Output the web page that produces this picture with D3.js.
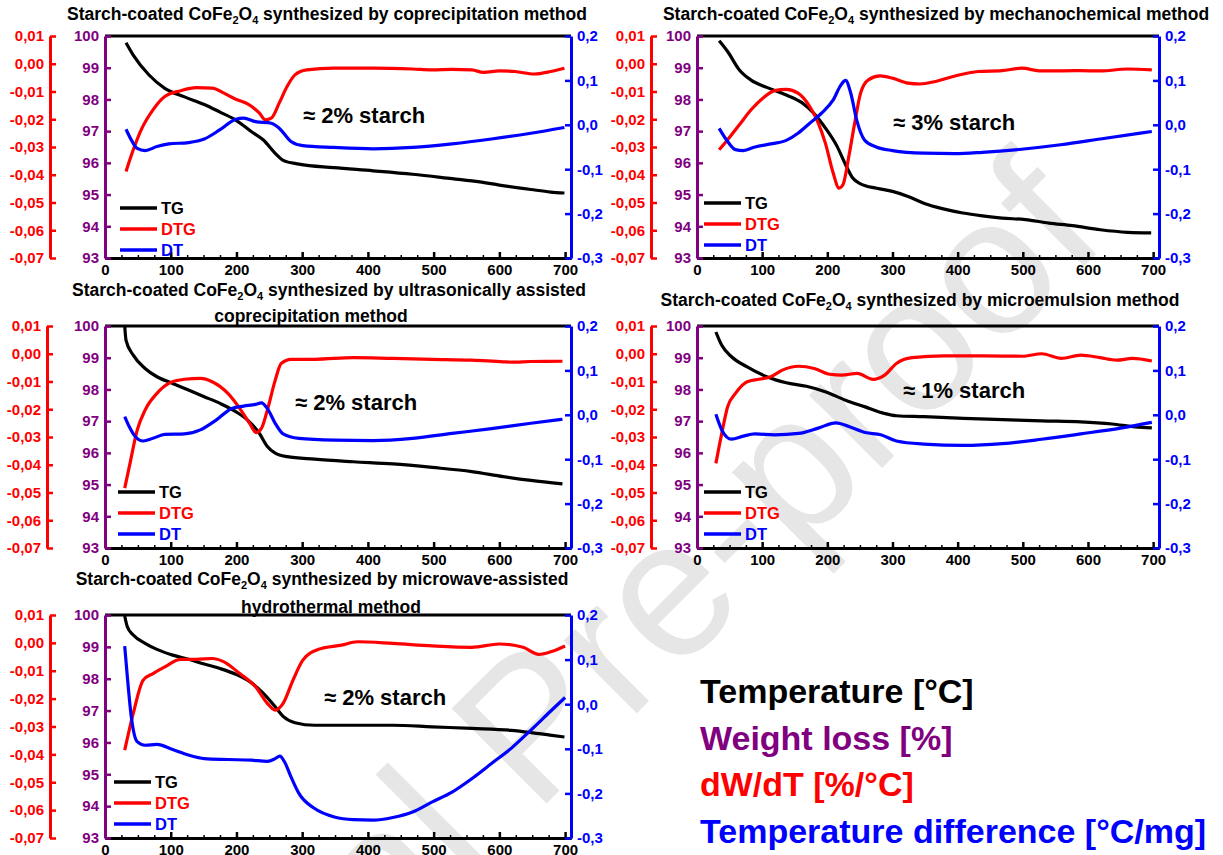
<!DOCTYPE html>
<html>
<head>
<meta charset="utf-8">
<script src="https://cdn.jsdelivr.net/npm/d3@7"></script>
<style>
  body { margin: 0; background: #fff; }
  svg text { font-family: "Liberation Sans", Arial, sans-serif; font-weight: bold; }
</style>
</head>
<body>
<svg id="chart" width="1223" height="855"></svg>
<script>
/* tick values shared by all five panels */
const tempTicks = [0, 100, 200, 300, 400, 500, 600, 700];
const tempMinorTicks = [25, 50, 75, 125, 150, 175, 225, 250, 275, 325, 350, 375, 425, 450, 475, 525, 550, 575, 625, 650, 675];
const weightTicks = [100, 99, 98, 97, 96, 95, 94, 93];
const dtgTicks = [0.01, 0, -0.01, -0.02, -0.03, -0.04, -0.05, -0.06, -0.07];
const dtTicks = [0.2, 0.1, 0, -0.1, -0.2, -0.3];

const seriesNames = ["TG", "DTG", "DT"];

const titles = [
	["Starch-coated CoFe2O4 synthesized by coprecipitation method"],
	["Starch-coated CoFe2O4 synthesized by mechanochemical method"],
	["Starch-coated CoFe2O4 synthesized by ultrasonically assisted", "coprecipitation method"],
	["Starch-coated CoFe2O4 synthesized by microemulsion method"],
	["Starch-coated CoFe2O4 synthesized by microwave-assisted", "hydrothermal method"]
];
const starchLabels = ["≈ 2% starch", "≈ 3% starch", "≈ 2% starch", "≈ 1% starch", "≈ 2% starch"];
const unitLabels = ["Temperature [°C]", "Weight loss [%]", "dW/dT [%/°C]", "Temperature difference [°C/mg]"];

/* [temperature °C, value] */
// coprecipitation
const p1TG = [[32,99.79],[43,99.4],[67,98.77],[91,98.35],[121,98.08],[151,97.84],[175,97.6],[199,97.35],[223,96.98],[241,96.72],[259,96.3],[271,96.08],[295,95.96],[348,95.85],[408,95.75],[468,95.64],[528,95.5],[570,95.4],[600,95.3],[648,95.16],[678,95.08],[699,95.05]];
const p1DTG = [[32,-0.0388],[43,-0.031],[55,-0.0238],[73,-0.0166],[91,-0.0118],[115,-0.0097],[139,-0.0086],[163,-0.0088],[181,-0.0106],[199,-0.0128],[217,-0.0145],[235,-0.0178],[244,-0.0202],[253,-0.0196],[265,-0.0142],[277,-0.0082],[289,-0.004],[307,-0.0022],[348,-0.0016],[408,-0.0016],[468,-0.0019],[498,-0.0022],[528,-0.002],[558,-0.0022],[576,-0.0031],[600,-0.0026],[624,-0.0028],[653,-0.0037],[678,-0.0028],[699,-0.0016]];
const p1DT = [[32,-0.01],[40,-0.034],[49,-0.053],[61,-0.058],[79,-0.049],[97,-0.043],[127,-0.04],[151,-0.032],[175,-0.011],[199,0.0126],[211,0.015],[229,0.007],[253,0.0036],[265,-0.0076],[283,-0.0376],[301,-0.047],[348,-0.051],[408,-0.054],[468,-0.051],[528,-0.043],[588,-0.032],[648,-0.019],[699,-0.006]];

// mechanochemical
const p2TG = [[34,99.85],[47,99.51],[65,98.93],[83,98.61],[107,98.38],[137,98.14],[161,97.9],[179,97.57],[197,97.1],[215,96.52],[227,95.99],[239,95.52],[251,95.34],[276,95.2],[300,95.1],[324,94.94],[348,94.73],[378,94.55],[408,94.42],[438,94.33],[468,94.26],[504,94.21],[540,94.1],[576,94.02],[619,93.89],[661,93.81],[697,93.79]];
const p2DTG = [[34,-0.031],[47,-0.0274],[65,-0.022],[83,-0.0166],[101,-0.0124],[119,-0.0097],[137,-0.0092],[155,-0.0106],[173,-0.0154],[185,-0.0208],[197,-0.0286],[209,-0.0394],[218,-0.0448],[224,-0.0436],[233,-0.0334],[242,-0.0214],[251,-0.0106],[263,-0.0058],[281,-0.0044],[300,-0.0052],[324,-0.007],[342,-0.0073],[366,-0.0064],[396,-0.0044],[432,-0.0028],[468,-0.0025],[498,-0.0016],[528,-0.0026],[588,-0.0025],[619,-0.0026],[661,-0.0019],[698,-0.0022]];
const p2DT = [[34,-0.008],[47,-0.0376],[59,-0.056],[71,-0.058],[89,-0.05],[113,-0.043],[137,-0.035],[155,-0.019],[173,0.0036],[191,0.026],[209,0.056],[221,0.09],[228,0.1],[236,0.071],[245,0.011],[257,-0.034],[275,-0.05],[300,-0.058],[348,-0.064],[396,-0.065],[438,-0.062],[498,-0.055],[558,-0.045],[619,-0.032],[698,-0.015]];

// ultrasonically assisted coprecipitation
const p3TG = [[30,100],[32,99.55],[43,99.08],[61,98.66],[79,98.4],[103,98.19],[127,97.98],[151,97.77],[175,97.56],[199,97.3],[217,97.03],[235,96.61],[247,96.2],[259,95.99],[277,95.88],[319,95.8],[378,95.72],[438,95.65],[498,95.54],[558,95.41],[606,95.25],[648,95.13],[696,95.02]];
const p3DTG = [[30,-0.0484],[37,-0.0407],[49,-0.0275],[61,-0.0203],[79,-0.0143],[97,-0.0107],[121,-0.0092],[145,-0.0089],[163,-0.0101],[187,-0.0143],[205,-0.0197],[220,-0.0251],[230,-0.0284],[238,-0.0269],[247,-0.0203],[259,-0.0095],[268,-0.0035],[283,-0.002],[319,-0.002],[378,-0.0014],[438,-0.0017],[498,-0.002],[558,-0.0023],[606,-0.0029],[618,-0.003],[648,-0.0028],[696,-0.0027]];
const p3DT = [[30,-0.004],[37,-0.027],[46,-0.049],[58,-0.059],[73,-0.053],[91,-0.044],[121,-0.043],[145,-0.034],[169,-0.012],[193,0.0144],[211,0.0196],[229,0.0234],[238,0.027],[247,0.0144],[259,-0.0193],[271,-0.043],[295,-0.053],[349,-0.057],[408,-0.058],[468,-0.053],[528,-0.042],[588,-0.031],[648,-0.019],[696,-0.01]];

// microemulsion
const p4TG = [[29,99.81],[38,99.39],[53,99.03],[77,98.71],[107,98.4],[137,98.21],[168,98.1],[198,97.92],[228,97.66],[258,97.45],[288,97.24],[306,97.17],[348,97.14],[409,97.09],[469,97.05],[529,97.01],[589,96.98],[637,96.91],[673,96.82],[698,96.79]];
const p4DTG = [[29,-0.0395],[38,-0.0287],[47,-0.0191],[59,-0.0143],[77,-0.0101],[95,-0.0092],[113,-0.0083],[131,-0.0059],[156,-0.0045],[180,-0.0053],[204,-0.0074],[222,-0.0077],[246,-0.0071],[270,-0.0092],[288,-0.0077],[306,-0.0035],[330,-0.0014],[379,-0.0008],[439,-0.0008],[499,-0.0009],[529,0.0],[559,-0.0017],[589,-0.0005],[619,-0.0014],[644,-0.0023],[668,-0.0017],[698,-0.0026]];
const p4DT = [[29,0.001],[38,-0.034],[53,-0.055],[71,-0.048],[89,-0.043],[119,-0.045],[156,-0.042],[186,-0.03],[213,-0.018],[234,-0.027],[258,-0.04],[282,-0.045],[306,-0.059],[348,-0.066],[409,-0.069],[469,-0.065],[529,-0.055],[589,-0.043],[650,-0.03],[698,-0.017]];

// microwave-assisted hydrothermal
const p5TG = [[30,99.97],[34,99.63],[43,99.37],[61,99.11],[79,98.92],[103,98.74],[127,98.61],[151,98.46],[175,98.32],[199,98.14],[223,97.87],[241,97.54],[259,97.12],[271,96.82],[289,96.62],[319,96.54],[378,96.54],[438,96.54],[498,96.49],[558,96.44],[618,96.38],[648,96.31],[677,96.23],[699,96.17]];
const p5DTG = [[30,-0.0385],[43,-0.0253],[58,-0.0134],[73,-0.011],[91,-0.0086],[115,-0.0059],[139,-0.0059],[163,-0.0056],[181,-0.0068],[205,-0.011],[229,-0.0157],[247,-0.0217],[259,-0.0241],[271,-0.0217],[286,-0.0134],[301,-0.0062],[325,-0.0023],[360,-0.0008],[384,0.0004],[438,-0.0002],[498,-0.0011],[558,-0.0016],[600,-0.0004],[636,-0.0016],[660,-0.0041],[678,-0.0032],[700,-0.0011]];
const p5DT = [[30,0.13],[34,0.0615],[40,-0.028],[49,-0.084],[61,-0.092],[79,-0.09],[103,-0.1016],[127,-0.114],[151,-0.122],[187,-0.124],[223,-0.1256],[247,-0.128],[259,-0.122],[266,-0.1166],[273,-0.129],[283,-0.163],[295,-0.2],[319,-0.234],[349,-0.253],[378,-0.259],[408,-0.26],[438,-0.254],[468,-0.2416],[498,-0.219],[528,-0.197],[558,-0.167],[588,-0.133],[618,-0.099],[648,-0.058],[677,-0.017],[700,0.015]];

/* layout of the five panels */
const panels = [
	{ left: 105, right: 571, top: 36, bottom: 258, redX: 50, title: [[327, 20]], note: [198, 87], legend: [15, 172], data: [p1TG, p1DTG, p1DT] },
	{ left: 697, right: 1159, top: 36, bottom: 258, redX: 651, title: [[936, 20]], note: [196, 94], legend: [7, 167], data: [p2TG, p2DTG, p2DT] },
	{ left: 105, right: 571, top: 326, bottom: 548, redX: 47, title: [[329, 296], [311, 322]], note: [190, 84], legend: [13, 166], data: [p3TG, p3DTG, p3DT] },
	{ left: 697, right: 1159, top: 326, bottom: 548, redX: 651, title: [[920, 306]], note: [206, 72], legend: [7, 166], data: [p4TG, p4DTG, p4DT] },
	{ left: 105, right: 571, top: 615, bottom: 838, redX: 50, title: [[322, 585], [331, 613]], note: [219, 90], legend: [9, 167], data: [p5TG, p5DTG, p5DT] }
];

const BLACK = "#000000", PURPLE = "#800080", RED = "#ff0000", BLUE = "#0000ff";
const seriesColors = [BLACK, RED, BLUE];

const svg = d3.select("#chart");

/* comma decimals, plain hyphen */
function commaFormat(digits) {
	const f = d3.format("." + digits + "f");
	return v => f(v).replace("\u2212", "-").replace(".", ",");
}

/* title text with CoFe2O4 subscripts */
function addTitleLine(sel, str) {
	const parts = str.split("CoFe2O4");
	if (parts.length === 1) { sel.text(str); return; }
	sel.append("tspan").text(parts[0] + "CoFe");
	sel.append("tspan").attr("font-size", 11).attr("dy", 4).text("2");
	sel.append("tspan").attr("dy", -4).text("O");
	sel.append("tspan").attr("font-size", 11).attr("dy", 4).text("4");
	sel.append("tspan").attr("dy", -4).text(parts[1]);
}

function styleAxis(g, color) {
	g.attr("font-family", null).attr("font-size", 15);
	g.select(".domain").attr("stroke", color).attr("stroke-width", 3);
	g.selectAll(".tick line").attr("stroke", color).attr("stroke-width", 2.5);
	g.selectAll(".tick text").attr("fill", color);
}

// watermark
svg.append("text")
	.attr("transform", "translate(1110,240) rotate(-45)")
	.attr("text-anchor", "end")
	.attr("font-size", 195)
	.style("font-weight", "normal")
	.attr("fill", "#e6e6e6")
	.text("Journal Pre-proof");

panels.forEach((p, i) => {
	const g = svg.append("g");
	const x = d3.scaleLinear().domain([0, 709]).range([p.left, p.right]);
	const yW = d3.scaleLinear().domain([93, 100]).range([p.bottom, p.top]);
	const yR = d3.scaleLinear().domain([-0.07, 0.01]).range([p.bottom, p.top]);
	const yB = d3.scaleLinear().domain([-0.3, 0.2]).range([p.bottom, p.top]);
	const scales = [yW, yR, yB];

	// title
	titles[i].forEach((line, j) => {
		const t = g.append("text")
			.attr("x", p.title[j][0])
			.attr("y", p.title[j][1])
			.attr("text-anchor", "middle")
			.attr("font-size", 17.5)
			.attr("fill", BLACK);
		addTitleLine(t, line);
	});

	// curves
	seriesNames.forEach((name, k) => {
		const line = d3.line()
			.x(d => x(d[0]))
			.y(d => scales[k](d[1]))
			.curve(d3.curveMonotoneX);
		g.append("path")
			.datum(p.data[k])
			.attr("fill", "none")
			.attr("stroke", seriesColors[k])
			.attr("stroke-width", 3.2)
			.attr("d", line);
	});

	// top border
	g.append("line")
		.attr("x1", p.left).attr("x2", p.right)
		.attr("y1", p.top).attr("y2", p.top)
		.attr("stroke", BLACK).attr("stroke-width", 3);

	// x axis, minor then major ticks
	g.append("g")
		.attr("transform", `translate(0,${p.bottom})`)
		.call(d3.axisBottom(x).tickValues(tempMinorTicks).tickFormat("").tickSizeInner(-3).tickSizeOuter(0))
		.call(a => { styleAxis(a, BLACK); a.selectAll(".tick line").attr("stroke-width", 1.5); });
	g.append("g")
		.attr("transform", `translate(0,${p.bottom})`)
		.call(d3.axisBottom(x).tickValues(tempTicks).tickFormat(d3.format("d")).tickSizeInner(-6).tickSizeOuter(0).tickPadding(6))
		.call(a => styleAxis(a, BLACK));

	// weight loss axis (purple)
	g.append("g")
		.attr("transform", `translate(${p.left},0)`)
		.call(d3.axisLeft(yW).tickValues(weightTicks).tickFormat(d3.format("d")).tickSizeInner(-6).tickSizeOuter(0).tickPadding(6))
		.call(a => styleAxis(a, PURPLE));

	// dW/dT axis (red)
	g.append("g")
		.attr("transform", `translate(${p.redX},0)`)
		.call(d3.axisLeft(yR).tickValues(dtgTicks).tickFormat(commaFormat(2)).tickSizeInner(-6).tickSizeOuter(0).tickPadding(6))
		.call(a => styleAxis(a, RED));

	// DT axis (blue)
	g.append("g")
		.attr("transform", `translate(${p.right},0)`)
		.call(d3.axisRight(yB).tickValues(dtTicks).tickFormat(commaFormat(1)).tickSizeInner(-6).tickSizeOuter(0).tickPadding(6))
		.call(a => styleAxis(a, BLUE));

	// starch note
	g.append("text")
		.attr("x", p.left + p.note[0])
		.attr("y", p.top + p.note[1])
		.attr("font-size", 22)
		.attr("fill", BLACK)
		.text(starchLabels[i]);

	// legend
	seriesNames.forEach((name, k) => {
		const ly = p.top + p.legend[1] + k * 21;
		const lx = p.left + p.legend[0];
		g.append("line")
			.attr("x1", lx).attr("x2", lx + 37)
			.attr("y1", ly).attr("y2", ly)
			.attr("stroke", seriesColors[k]).attr("stroke-width", 3.5);
		g.append("text")
			.attr("x", lx + 41)
			.attr("y", ly + 6)
			.attr("font-size", 16.5)
			.attr("fill", seriesColors[k])
			.text(name);
	});
});

// unit key, bottom right
const unitColors = [BLACK, PURPLE, RED, BLUE];
unitLabels.forEach((label, i) => {
	svg.append("text")
		.attr("x", 700)
		.attr("y", 703 + i * 46.7)
		.attr("font-size", 34)
		.attr("fill", unitColors[i])
		.text(label);
});
</script>
</body>
</html>
